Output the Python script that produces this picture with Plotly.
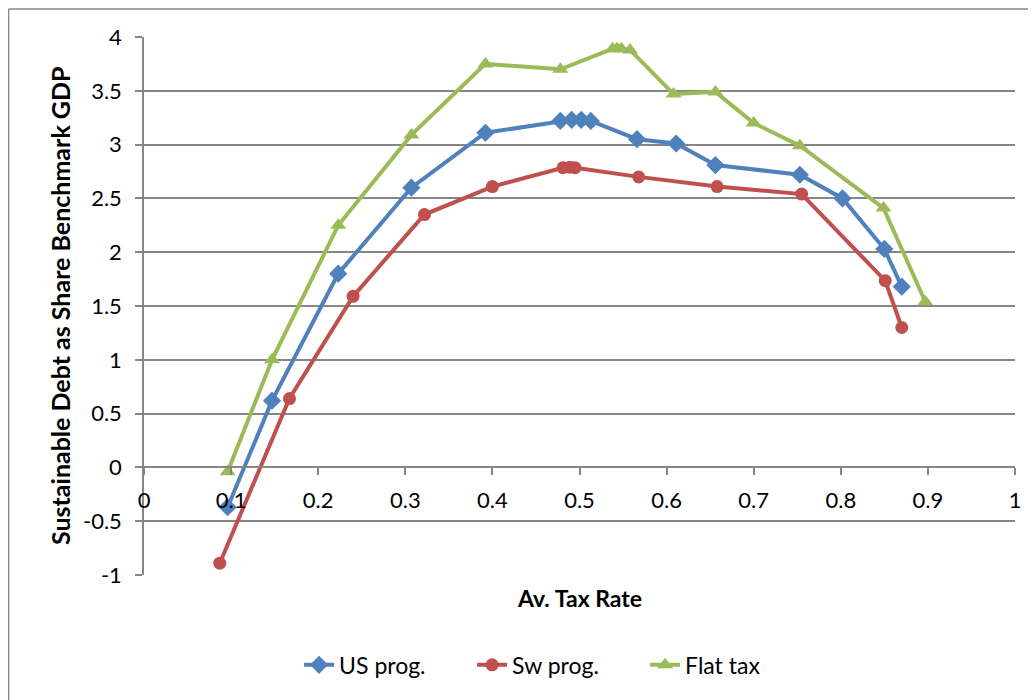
import plotly.graph_objects as go

# Data
us_x = [0.096, 0.147, 0.223, 0.307, 0.392, 0.478, 0.491, 0.502, 0.513, 0.566, 0.611, 0.656, 0.753, 0.802, 0.850, 0.870]
us_y = [-0.37, 0.62, 1.80, 2.60, 3.11, 3.22, 3.23, 3.23, 3.22, 3.05, 3.01, 2.81, 2.72, 2.50, 2.03, 1.68]

sw_x = [0.087, 0.167, 0.240, 0.322, 0.400, 0.481, 0.489, 0.495, 0.568, 0.658, 0.755, 0.851, 0.870]
sw_y = [-0.89, 0.64, 1.59, 2.35, 2.61, 2.785, 2.79, 2.785, 2.70, 2.61, 2.54, 1.735, 1.30]

flat_x = [0.096, 0.147, 0.223, 0.307, 0.392, 0.478, 0.538, 0.543, 0.548, 0.558, 0.608, 0.656, 0.700, 0.753, 0.849, 0.897]
flat_y = [-0.04, 1.00, 2.25, 3.09, 3.75, 3.70, 3.89, 3.89, 3.89, 3.88, 3.47, 3.49, 3.20, 2.99, 2.41, 1.54]

x_ticks = [0, 0.1, 0.2, 0.3, 0.4, 0.5, 0.6, 0.7, 0.8, 0.9, 1]
x_tick_text = ["0", "0.1", "0.2", "0.3", "0.4", "0.5", "0.6", "0.7", "0.8", "0.9", "1"]
y_ticks = [-1, -0.5, 0, 0.5, 1, 1.5, 2, 2.5, 3, 3.5, 4]
y_tick_text = ["-1", "-0.5", "0", "0.5", "1", "1.5", "2", "2.5", "3", "3.5", "4"]

FONT = "Lato, Carlito, 'Open Sans', sans-serif"
GRID = "#868686"

fig = go.Figure()
fig.add_trace(go.Scatter(x=us_x, y=us_y, name="US prog.", mode="lines+markers",
                         line=dict(color="#4F81BD", width=4),
                         marker=dict(symbol="diamond", size=14, color="#4F81BD")))
fig.add_trace(go.Scatter(x=sw_x, y=sw_y, name="Sw prog.", mode="lines+markers",
                         line=dict(color="#C0504D", width=4),
                         marker=dict(symbol="circle", size=13, color="#C0504D")))
fig.add_trace(go.Scatter(x=flat_x, y=flat_y, name="Flat tax", mode="lines+markers",
                         line=dict(color="#9BBB59", width=4),
                         marker=dict(symbol="triangle-up", size=14, color="#9BBB59")))

fig.update_layout(
    width=1028, height=692,
    margin=dict(l=136, r=21, t=29, b=125, autoexpand=False),
    paper_bgcolor="white", plot_bgcolor="white",
    font=dict(family=FONT, size=22, color="black"),
    showlegend=True,
    legend=dict(orientation="h", x=0.476, xanchor="center", y=-0.167, yanchor="middle",
                font=dict(size=23), bgcolor="rgba(0,0,0,0)",
                entrywidth=128, entrywidthmode="pixels"),
    xaxis=dict(range=[0, 1], tickvals=x_ticks, ticktext=x_tick_text,
               showgrid=False, zeroline=False, showline=True, linecolor=GRID, linewidth=1.5,
               ticks="outside", ticklen=7, tickcolor=GRID, tickwidth=1.5,
               anchor="free", position=0.2007, tickfont=dict(size=22),
               ticklabelstandoff=7),
    yaxis=dict(range=[-1, 4], tickvals=y_ticks, ticktext=y_tick_text,
               showgrid=True, gridcolor=GRID, gridwidth=1.5, zeroline=False,
               showline=True, linecolor=GRID, linewidth=1.5,
               ticks="outside", ticklen=7, tickcolor=GRID, tickwidth=1.5,
               tickfont=dict(size=22), domain=[0, 1], ticklabelstandoff=9),
    annotations=[
        dict(text="<b>Av. Tax Rate</b>", xref="paper", yref="paper", x=0.5, y=-0.043,
             xanchor="center", yanchor="middle", showarrow=False, font=dict(size=23)),
        dict(text="<b>Sustainable Debt as Share Benchmark GDP</b>", xref="paper", yref="paper",
             x=-0.0964, y=0.5, xanchor="center", yanchor="middle", textangle=-90,
             showarrow=False, font=dict(size=25)),
    ],
    shapes=[
        dict(type="line", xref="paper", yref="paper", x0=-0.1555, x1=-0.1555, y0=1.052, y1=-0.3,
             line=dict(color=GRID, width=1.5)),
        dict(type="line", xref="paper", yref="paper", x0=-0.1555, x1=1.05, y0=1.052, y1=1.052,
             line=dict(color=GRID, width=1.5)),
    ],
)

fig.write_html("out.html")
